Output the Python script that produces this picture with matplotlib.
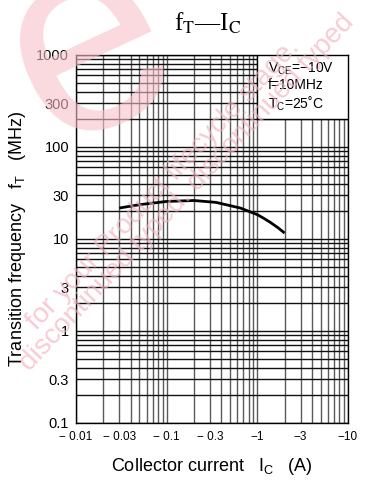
import matplotlib
matplotlib.use("Agg")
import matplotlib.pyplot as plt
from matplotlib.ticker import FixedLocator, LogLocator, NullFormatter
from matplotlib.patches import Rectangle
import numpy as np

# Data
ic = [-0.03, -0.05, -0.1, -0.2, -0.35, -0.65, -1.0, -1.2, -1.4, -1.7, -2.0]   # A
ft = [21.7, 23.6, 25.6, 26.2, 25.0, 21.7, 18.4, 16.6, 15.1, 13.2, 11.6]       # MHz

x_ticks = [0.01, 0.03, 0.1, 0.3, 1, 3, 10]
x_labels = ["\u2212 0.01", "\u2212 0.03", "\u2212 0.1", "\u2212 0.3", "\u22121", "\u22123", "\u221210"]
y_ticks = [0.1, 0.3, 1, 3, 10, 30, 100, 300, 1000]
y_labels = ["0.1", "0.3", "1", "3", "10", "30", "100", "300", "1000"]

plt.rcParams['font.family'] = ['Liberation Sans', 'DejaVu Sans']
plt.rcParams['mathtext.fontset'] = 'custom'
plt.rcParams['mathtext.rm'] = 'Liberation Sans'

fig = plt.figure(figsize=(3.69, 4.82), dpi=100)

# watermark
wm = dict(color='#f3b0bf', alpha=0.65, rotation=47, fontsize=20, zorder=0,
          va='baseline', rotation_mode='anchor')
fig.text(300/369, 1-48/482, "for your Product lifecycle stage.", ha='right', **wm)
fig.text(30/369, 1-372/482, "discontinued typed. discontinued typed", ha='left', **wm)
fig.text(90/369, 1-50/482, "e", color='#f8c0ca', fontsize=200, rotation=25, zorder=0,
         ha='center', va='center', alpha=0.6)

ax = fig.add_axes([76/369, 1-423/482, 272/369, 368/482])
ax.patch.set_alpha(0)
ax.set_xscale('log')
ax.set_yscale('log')
ax.set_xlim(0.01, 10)
ax.set_ylim(0.1, 1000)

ax.xaxis.set_major_locator(FixedLocator(x_ticks))
ax.xaxis.set_minor_locator(LogLocator(base=10, subs=np.arange(2, 10)))
ax.xaxis.set_minor_formatter(NullFormatter())
ax.set_xticklabels(x_labels, fontsize=8.5)
ax.yaxis.set_major_locator(FixedLocator(y_ticks))
ax.yaxis.set_minor_locator(LogLocator(base=10, subs=np.arange(2, 10)))
ax.yaxis.set_minor_formatter(NullFormatter())
ax.set_yticklabels(y_labels, fontsize=10.5)
ax.tick_params(which='both', length=0)
ax.tick_params(axis='x', pad=6)
ax.tick_params(axis='y', pad=5)

ax.grid(True, axis='x', which='both', color='#5a5a5a', lw=1.0, zorder=1)
ax.grid(True, axis='y', which='both', color='#111111', lw=1.0, zorder=1)
ax.set_axisbelow(True)
for s in ax.spines.values():
    s.set_color('black')
    s.set_linewidth(1.0)

ax.plot(np.abs(ic), ft, color='black', lw=2.0, zorder=3, solid_capstyle='butt',
        solid_joinstyle='round')

# condition box
ax.add_patch(Rectangle((1, 200), 9, 800, facecolor='white', edgecolor='black',
                       lw=1.0, zorder=4))
ax.text(1.3, 880, "V$_{\\mathrm{CE}}$=\u221210V\nf=10MHz\nT$_{\\mathrm{C}}$=25\u02daC",
        fontsize=10, va='top', ha='left', zorder=5, linespacing=1.15)

ax.set_xlabel("Collector current   I$_{\\mathrm{C}}$   (A)", fontsize=13, labelpad=9)
ax.set_ylabel("Transition frequency   f$_{\\mathrm{T}}$   (MHz)", fontsize=13, labelpad=6)

fig.text(208/369, 1-23/482, "f$_{\\mathrm{T}}$\u2014I$_{\\mathrm{C}}$",
         fontsize=18, ha='center', va='center', family='Liberation Serif',
         math_fontfamily='stix')

fig.savefig("out.png", dpi=100)
